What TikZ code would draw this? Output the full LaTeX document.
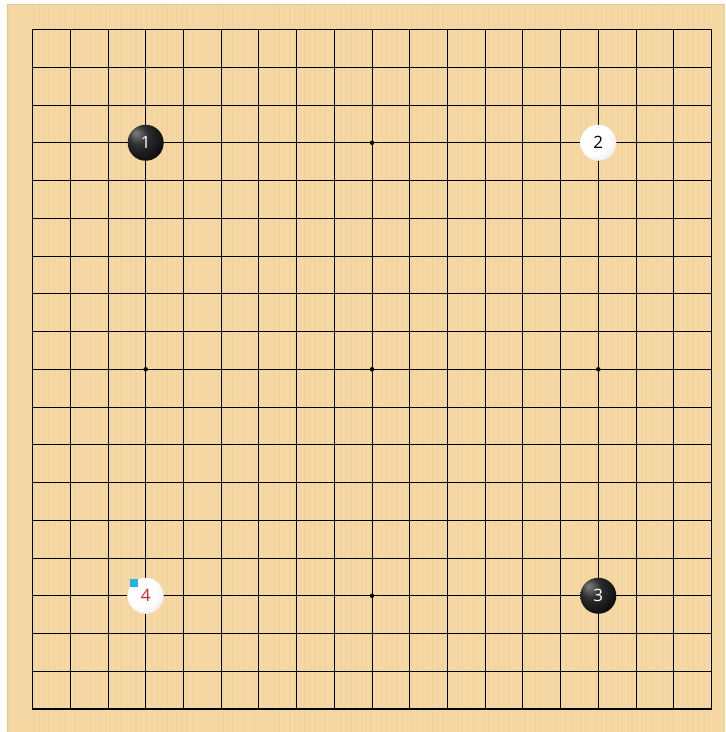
\documentclass[tikz,border=0pt]{standalone}
\usepackage{fontspec}
\setsansfont{Open Sans}
\usepackage{xcolor}
\usepackage{tikz}
\usetikzlibrary{positioning}
\definecolor{woodBase}{RGB}{245,216,164}
\definecolor{woodDark}{RGB}{233,200,140}
\definecolor{woodEdge}{RGB}{222,196,150}
\definecolor{markCyan}{RGB}{38,176,228}
\definecolor{numRed}{RGB}{222,30,40}
\pgfdeclareradialshading{blackstone}{\pgfpoint{-14bp}{14bp}}{%
  color(0bp)=(black!50); color(14bp)=(black!82); color(34bp)=(black!96); color(60bp)=(black)}
\pgfdeclareradialshading{whitestone}{\pgfpoint{-10bp}{10bp}}{%
  color(0bp)=(white); color(22bp)=(white); color(42bp)=(black!14); color(58bp)=(black!38)}

\begin{document}
\begin{tikzpicture}[
    x=37.72pt,y=-37.75pt,
    gridline/.style={draw=black,line width=0.8pt},
    edgeline/.style={draw=black,line width=1.6pt},
    hoshi/.style={circle,fill=black,inner sep=0pt,minimum size=4.5pt},
    bstone/.style={circle,shading=blackstone,inner sep=0pt,minimum size=36pt,
                   font=\sffamily\fontsize{17}{17}\selectfont,text=white},
    wstone/.style={circle,shading=whitestone,inner sep=0pt,minimum size=36pt,
                   font=\sffamily\fontsize{17}{17}\selectfont,text=black},
    lastmark/.style={rectangle,fill=markCyan,inner sep=0pt,minimum size=8pt}
  ]
  %% page and board
  \useasboundingbox (-0.8616,-0.7815) rectangle (18.359,18.609);
  \fill[white!96!woodBase] (-0.8616,-0.7815) rectangle (18.359,18.609);
  \fill[woodBase] (-0.676,-0.6755) rectangle (18.359,18.609);
  \pgfmathsetseed{7}
  \foreach \s in {0,...,140} {
    \pgfmathsetmacro{\sx}{-0.66+\s*0.1355}
    \pgfmathsetmacro{\so}{0.08+0.22*rnd}
    \fill[woodDark,opacity=\so] (\sx,-0.6755) rectangle ({\sx+0.05},18.609);
  }
  \draw[woodEdge,line width=0.8pt] (-0.676,18.609) -- (-0.676,-0.6755) -- (18.359,-0.6755);
  %% grid
  \foreach \i in {1,...,17} {
    \draw[gridline] (\i,0) -- (\i,18);
    \draw[gridline] (0,\i) -- (18,\i);
  }
  \draw[edgeline] (0,0) rectangle (18,18);
  %% star points
  \foreach \hx/\hy [count=\k] in {9/3,3/9,9/9,15/9,9/15}
    \node[hoshi] (hoshi\k) at (\hx,\hy) {};
  %% stones
  \node[bstone] (s1) at (3,3)   {1};
  \node[wstone] (s2) at (15,3)  {2};
  \node[bstone] (s3) at (15,15) {3};
  \node[wstone,text=numRed] (s4) at (3,15) {4};
  \node[lastmark] (mark) at ([xshift=-12pt,yshift=12.5pt]s4.center) {};
\end{tikzpicture}
\end{document}
